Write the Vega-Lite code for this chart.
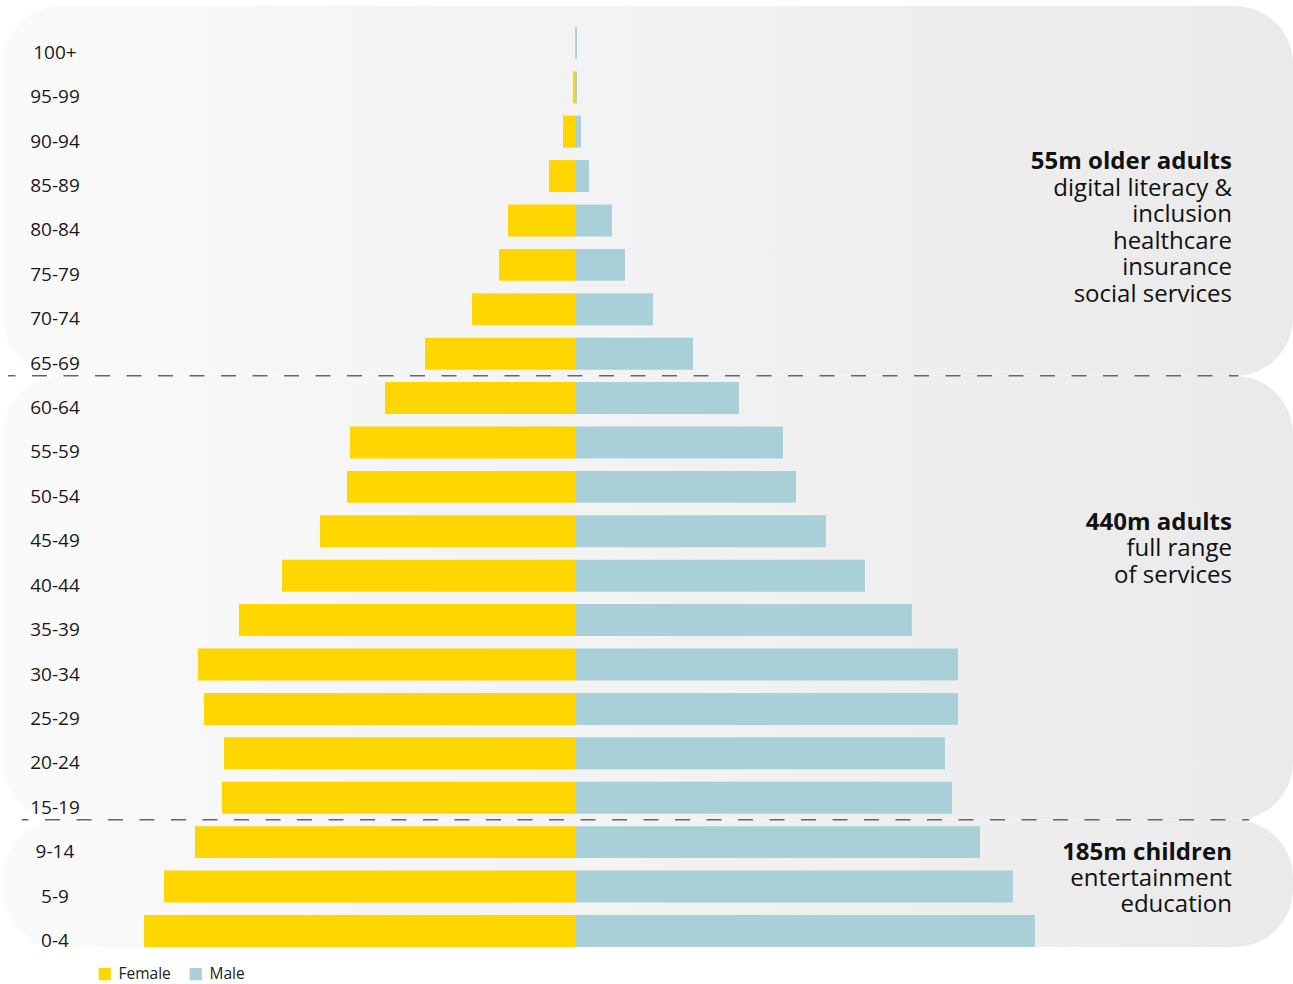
{
  "$schema": "https://vega.github.io/schema/vega-lite/v6.json",
  "width": 1293,
  "height": 984,
  "autosize": {"type": "fit", "contains": "padding"},
  "padding": 0,
  "background": "#ffffff",
  "config": {"view": {"stroke": null}, "font": "Open Sans"},
  "datasets": {
    "pop": [
      {"age": "100+", "female": 0.07, "male": 0.07},
      {"age": "95-99", "female": 0.22, "male": 0.07},
      {"age": "90-94", "female": 0.96, "male": 0.37},
      {"age": "85-89", "female": 1.99, "male": 0.96},
      {"age": "80-84", "female": 5.01, "male": 2.65},
      {"age": "75-79", "female": 5.67, "male": 3.61},
      {"age": "70-74", "female": 7.66, "male": 5.67},
      {"age": "65-69", "female": 11.12, "male": 8.62},
      {"age": "60-64", "female": 14.07, "male": 12.01},
      {"age": "55-59", "female": 16.65, "male": 15.25},
      {"age": "50-54", "female": 16.87, "male": 16.21},
      {"age": "45-49", "female": 18.86, "male": 18.42},
      {"age": "40-44", "female": 21.66, "male": 21.29},
      {"age": "35-39", "female": 24.83, "male": 24.75},
      {"age": "30-34", "female": 27.85, "male": 28.14},
      {"age": "25-29", "female": 27.4, "male": 28.14},
      {"age": "20-24", "female": 25.93, "male": 27.18},
      {"age": "15-19", "female": 26.08, "male": 27.7},
      {"age": "9-14", "female": 28.07, "male": 29.76},
      {"age": "5-9", "female": 30.35, "male": 32.19},
      {"age": "0-4", "female": 31.82, "male": 33.81}
    ],
    "panels": [
      {"group": "older", "top": "100+", "bottom": "65-69"},
      {"group": "adults", "top": "60-64", "bottom": "15-19"},
      {"group": "children", "top": "9-14", "bottom": "0-4"}
    ],
    "notes": [
      {"group": "older", "age": "85-89", "head": "55m older adults", "body": "digital literacy &\ninclusion\nhealthcare\ninsurance\nsocial services"},
      {"group": "adults", "age": "45-49", "head": "440m adults", "body": "full range\nof services"},
      {"group": "children", "age": "9-14", "head": "185m children", "body": "entertainment\neducation"}
    ],
    "breaks": [
      {"age": "65-69"},
      {"age": "15-19"}
    ]
  },
  "layer": [
    {
      "data": {"name": "panels"},
      "transform": [{"filter": "datum.group === 'older'"}],
      "mark": {"type": "rect", "cornerRadius": 58, "color": {"gradient": "linear", "x1": 0, "x2": 1, "y1": 0, "y2": 0, "stops": [{"offset": 0, "color": "#fafafa"}, {"offset": 1, "color": "#eaeaea"}]}},
      "encoding": {
        "x": {"datum": -42.21, "type": "quantitative", "axis": null, "scale": {"domain": [-42.43, 52.82], "nice": false, "zero": false}},
        "x2": {"datum": 52.82},
        "y": {"field": "top", "type": "ordinal", "bandPosition": -0.656, "axis": null,
              "scale": {"type": "band", "domain": ["100+", "95-99", "90-94", "85-89", "80-84", "75-79", "70-74", "65-69", "60-64", "55-59", "50-54", "45-49", "40-44", "35-39", "30-34", "25-29", "20-24", "15-19", "9-14", "5-9", "0-4"], "paddingInner": 0.28, "paddingOuter": 0.72, "align": 0.42}},
        "y2": {"field": "bottom", "bandPosition": 1.19}
      }
    },
    {
      "data": {"name": "panels"},
      "transform": [{"filter": "datum.group === 'adults'"}],
      "mark": {"type": "rect", "cornerRadius": 58, "color": {"gradient": "linear", "x1": 0, "x2": 1, "y1": 0, "y2": 0, "stops": [{"offset": 0, "color": "#fafafa"}, {"offset": 1, "color": "#eaeaea"}]}},
      "encoding": {
        "x": {"datum": -42.21, "type": "quantitative", "axis": null, "scale": {"domain": [-42.43, 52.82], "nice": false, "zero": false}},
        "x2": {"datum": 52.82},
        "y": {"field": "top", "type": "ordinal", "bandPosition": -0.19, "axis": null},
        "y2": {"field": "bottom", "bandPosition": 1.19}
      }
    },
    {
      "data": {"name": "panels"},
      "transform": [{"filter": "datum.group === 'children'"}],
      "mark": {"type": "rect", "cornerRadius": 58, "color": {"gradient": "linear", "x1": 0, "x2": 1, "y1": 0, "y2": 0, "stops": [{"offset": 0, "color": "#fafafa"}, {"offset": 1, "color": "#eaeaea"}]}},
      "encoding": {
        "x": {"datum": -42.21, "type": "quantitative", "axis": null, "scale": {"domain": [-42.43, 52.82], "nice": false, "zero": false}},
        "x2": {"datum": 52.82},
        "y": {"field": "top", "type": "ordinal", "bandPosition": -0.19, "axis": null},
        "y2": {"field": "bottom", "bandPosition": 1.0}
      }
    },
    {
      "data": {"name": "pop"},
      "mark": {"type": "bar"},
      "encoding": {
        "x": {"field": "female", "type": "quantitative", "axis": null, "scale": {"domain": [-52.82, 42.43], "reverse": true, "nice": false, "zero": false}},
        "y": {"field": "age", "type": "ordinal", "axis": null},
        "color": {"datum": "Female", "type": "nominal",
          "scale": {"domain": ["Female", "Male"], "range": ["#ffd600", "#a9d0d9"]},
          "legend": {"orient": "none", "legendX": 97, "legendY": 966, "direction": "horizontal", "title": null, "symbolType": "square", "symbolSize": 150, "symbolStrokeWidth": 0, "labelFontSize": 15.5, "labelFont": "Open Sans", "labelColor": "#222222", "columnPadding": 17, "labelOffset": 6, "padding": 0}}
      }
    },
    {
      "data": {"name": "pop"},
      "mark": {"type": "bar"},
      "encoding": {
        "x": {"field": "male", "type": "quantitative", "axis": null, "scale": {"domain": [-42.43, 52.82], "nice": false, "zero": false}},
        "y": {"field": "age", "type": "ordinal", "axis": null},
        "color": {"datum": "Male", "type": "nominal"}
      }
    },
    {
      "data": {"name": "breaks"},
      "transform": [{"filter": "datum.age === '65-69'"}],
      "mark": {"type": "rule", "color": "#666666", "strokeWidth": 1.6, "strokeDash": [15, 16.5], "strokeDashOffset": 7.5},
      "encoding": {
        "x": {"datum": -41.84, "type": "quantitative", "axis": null, "scale": {"domain": [-42.43, 52.82], "nice": false, "zero": false}},
        "x2": {"datum": 48.8},
        "y": {"field": "age", "type": "ordinal", "bandPosition": 1.19, "axis": null}
      }
    },
    {
      "data": {"name": "breaks"},
      "transform": [{"filter": "datum.age === '15-19'"}],
      "mark": {"type": "rule", "color": "#666666", "strokeWidth": 1.6, "strokeDash": [15, 16.5], "strokeDashOffset": 8.2},
      "encoding": {
        "x": {"datum": -40.83, "type": "quantitative", "axis": null, "scale": {"domain": [-42.43, 52.82], "nice": false, "zero": false}},
        "x2": {"datum": 49.6},
        "y": {"field": "age", "type": "ordinal", "bandPosition": 1.19, "axis": null}
      }
    },
    {
      "data": {"name": "pop"},
      "mark": {"type": "text", "font": "Open Sans", "fontSize": 19, "align": "center", "baseline": "alphabetic", "dy": 16, "color": "#1a1a1a"},
      "encoding": {
        "x": {"datum": -38.38, "type": "quantitative", "axis": null, "scale": {"domain": [-42.43, 52.82], "nice": false, "zero": false}},
        "y": {"field": "age", "type": "ordinal", "axis": null},
        "text": {"field": "age", "type": "nominal"}
      }
    },
    {
      "data": {"name": "notes"},
      "transform": [{"filter": "datum.group === 'older'"}],
      "layer": [
        {"mark": {"type": "text", "font": "Open Sans", "fontWeight": "bold", "fontSize": 24, "align": "right", "baseline": "alphabetic", "dy": -6.9, "color": "#111111"},
         "encoding": {"text": {"field": "head", "type": "nominal"}}},
        {"mark": {"type": "text", "font": "Open Sans", "fontSize": 24, "align": "right", "baseline": "alphabetic", "dy": 19.5, "lineBreak": "\n", "lineHeight": 26.5, "color": "#111111"},
         "encoding": {"text": {"field": "body", "type": "nominal"}}}
      ],
      "encoding": {
        "x": {"datum": 48.32, "type": "quantitative", "axis": null, "scale": {"domain": [-42.43, 52.82], "nice": false, "zero": false}},
        "y": {"field": "age", "type": "ordinal", "axis": null}
      }
    },
    {
      "data": {"name": "notes"},
      "transform": [{"filter": "datum.group === 'adults'"}],
      "layer": [
        {"mark": {"type": "text", "font": "Open Sans", "fontWeight": "bold", "fontSize": 24, "align": "right", "baseline": "alphabetic", "dy": -1.4, "color": "#111111"},
         "encoding": {"text": {"field": "head", "type": "nominal"}}},
        {"mark": {"type": "text", "font": "Open Sans", "fontSize": 24, "align": "right", "baseline": "alphabetic", "dy": 25.1, "lineBreak": "\n", "lineHeight": 26.5, "color": "#111111"},
         "encoding": {"text": {"field": "body", "type": "nominal"}}}
      ],
      "encoding": {
        "x": {"datum": 48.32, "type": "quantitative", "axis": null, "scale": {"domain": [-42.43, 52.82], "nice": false, "zero": false}},
        "y": {"field": "age", "type": "ordinal", "axis": null}
      }
    },
    {
      "data": {"name": "notes"},
      "transform": [{"filter": "datum.group === 'children'"}],
      "layer": [
        {"mark": {"type": "text", "font": "Open Sans", "fontWeight": "bold", "fontSize": 24, "align": "right", "baseline": "alphabetic", "dy": 17.8, "color": "#111111"},
         "encoding": {"text": {"field": "head", "type": "nominal"}}},
        {"mark": {"type": "text", "font": "Open Sans", "fontSize": 24, "align": "right", "baseline": "alphabetic", "dy": 43.8, "lineBreak": "\n", "lineHeight": 26.5, "color": "#111111"},
         "encoding": {"text": {"field": "body", "type": "nominal"}}}
      ],
      "encoding": {
        "x": {"datum": 48.32, "type": "quantitative", "axis": null, "scale": {"domain": [-42.43, 52.82], "nice": false, "zero": false}},
        "y": {"field": "age", "type": "ordinal", "axis": null}
      }
    }
  ],
  "resolve": {"scale": {"x": "independent"}}
}
